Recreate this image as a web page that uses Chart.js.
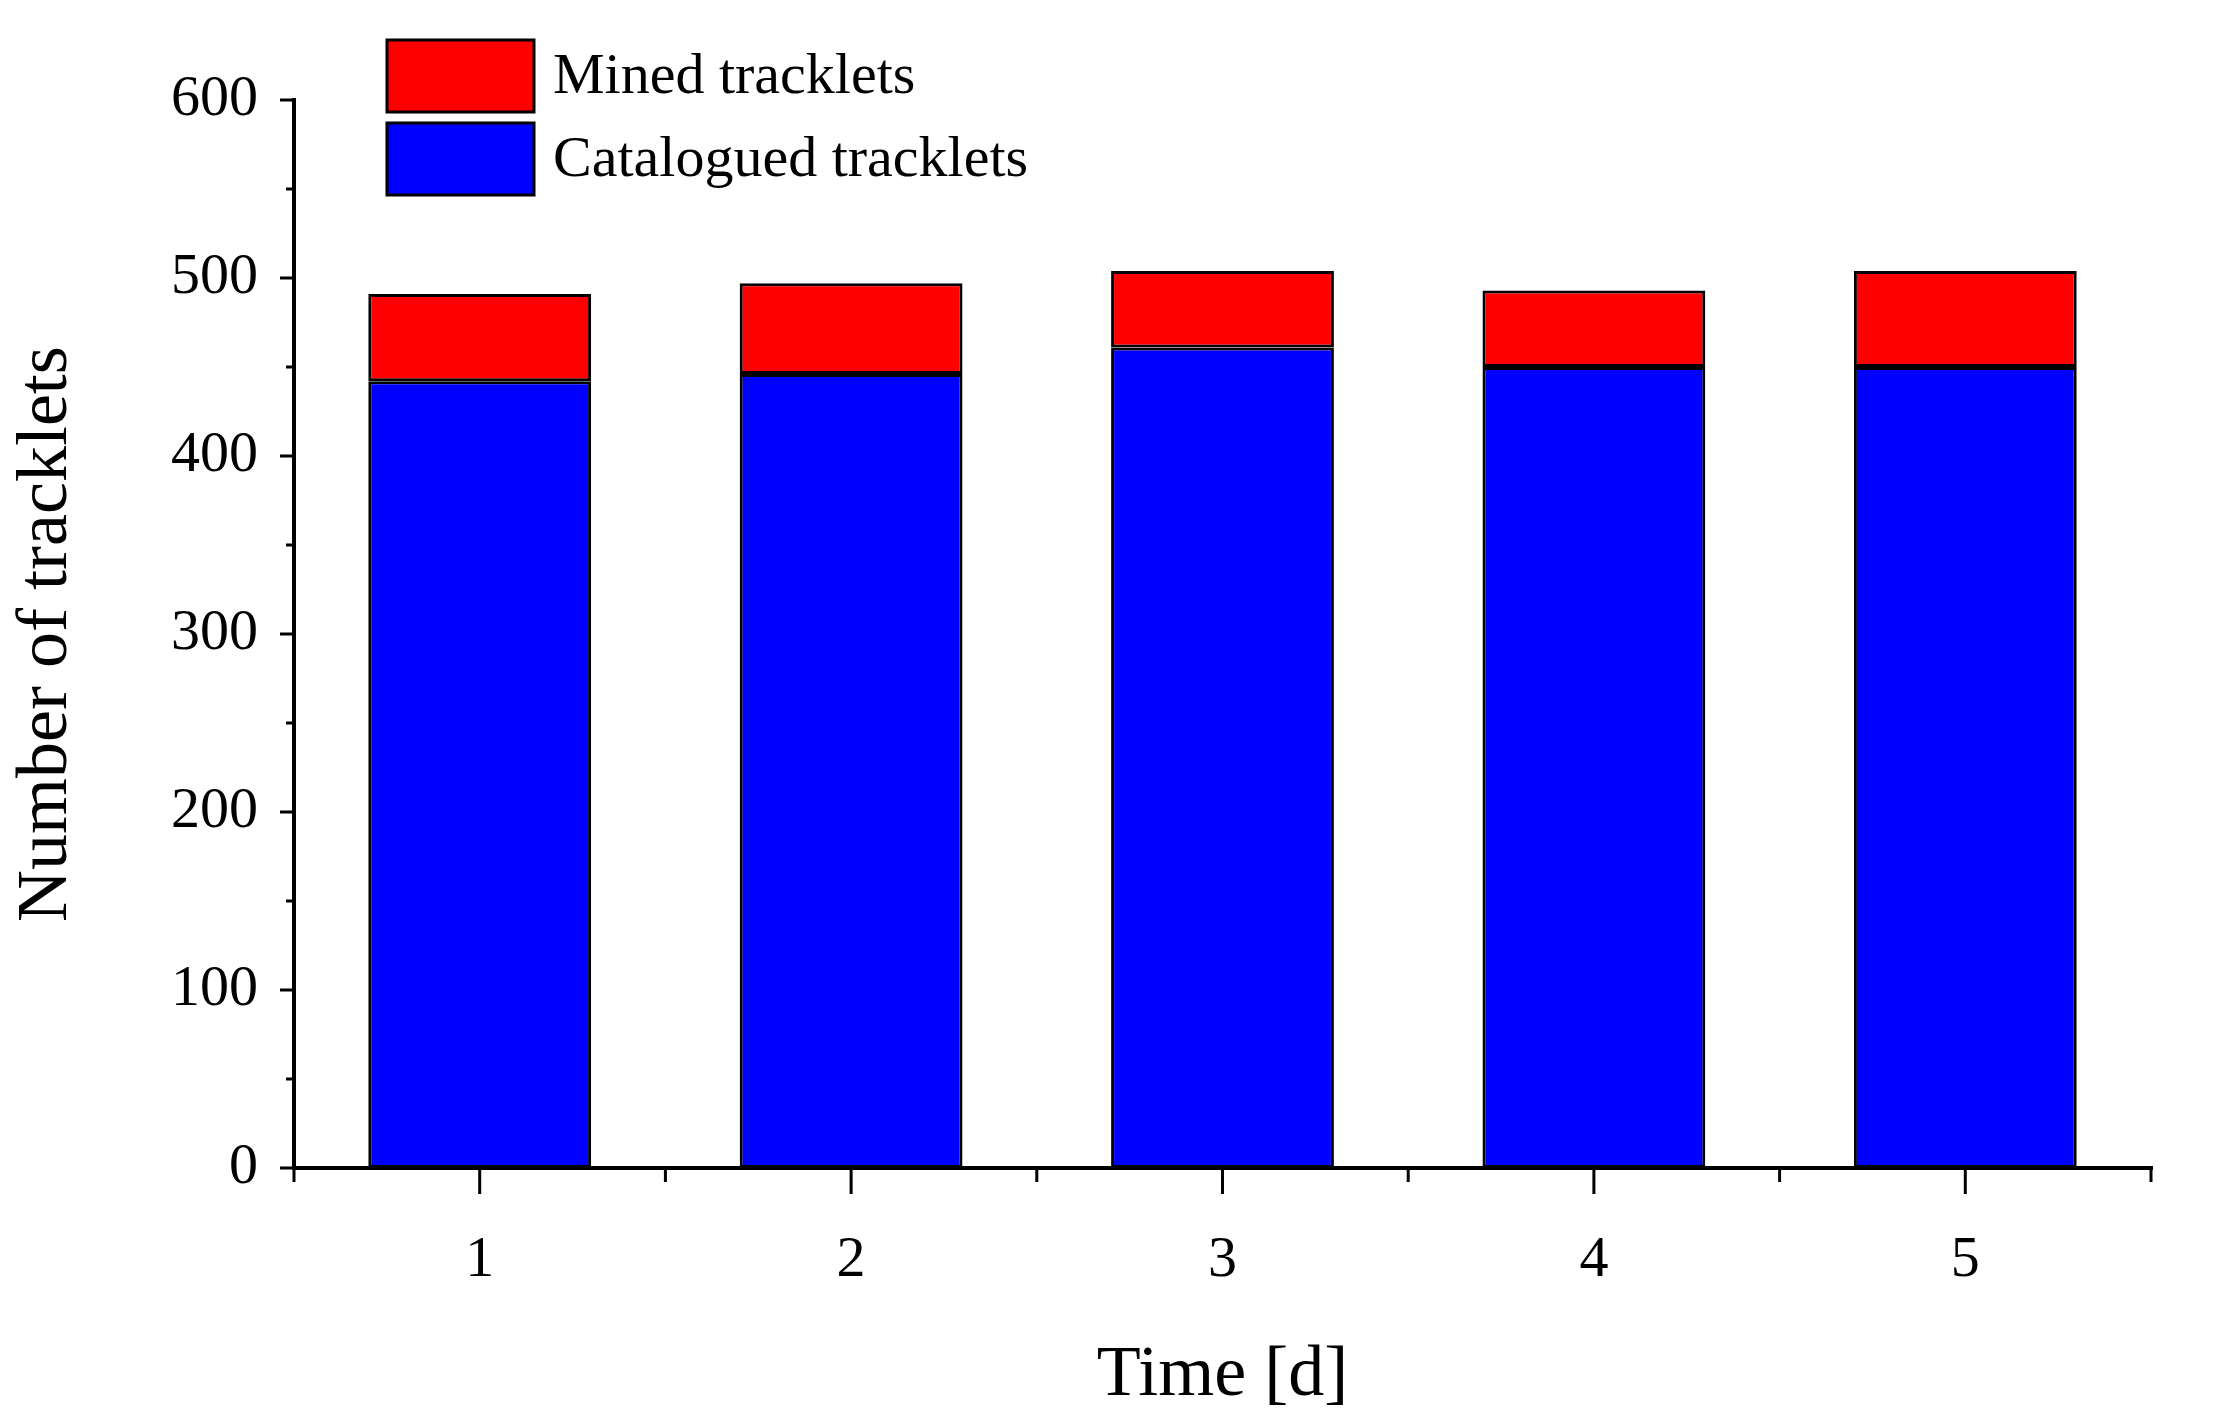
<!DOCTYPE html>
<html><head><meta charset="utf-8">
<script src="https://cdn.jsdelivr.net/npm/chart.js@4/dist/chart.umd.min.js"></script>
<style>html,body{margin:0;padding:0;background:#fff}#w{width:2215px;height:1423px}</style>
</head><body><div id="w"><canvas id="c"></canvas></div>
<script>
const days = [1, 2, 3, 4, 5];
const catalogued = [442, 446, 461, 450, 450];
const mined = [49, 51, 43, 43, 54];
const yTicks = [0, 100, 200, 300, 400, 500, 600];
const seriesNames = ['Catalogued tracklets', 'Mined tracklets'];

const FONT = '"Liberation Serif", "Times New Roman", serif';
const ticksPlugin = {
  id: 'ticksPlugin',
  afterDraw(chart) {
    const ctx = chart.ctx, x = chart.scales.x, y = chart.scales.y;
    ctx.save();
    ctx.strokeStyle = '#000';
    ctx.lineWidth = 4;
    ctx.beginPath();
    ctx.moveTo(x.left, y.top - 2); ctx.lineTo(x.left, y.bottom + 2);
    ctx.moveTo(x.left - 2, y.bottom); ctx.lineTo(x.right + 2, y.bottom);
    ctx.stroke();
    ctx.lineWidth = 3;
    ctx.beginPath();
    for (let v = 0; v <= 600; v += 50) {
      const py = y.getPixelForValue(v);
      const len = v % 100 === 0 ? 14 : 8;
      ctx.moveTo(x.left, py); ctx.lineTo(x.left - len, py);
    }
    for (let v = 0.5; v <= 5.5; v += 0.5) {
      const px = x.getPixelForValue(v);
      const len = Number.isInteger(v) ? 26 : 14;
      ctx.moveTo(px, y.bottom); ctx.lineTo(px, y.bottom + len);
    }
    ctx.stroke();
    // legend
    const items = [[seriesNames[1], '#ff0000', 40], [seriesNames[0], '#0000ff', 123]];
    ctx.font = '58px ' + FONT;
    ctx.textBaseline = 'middle';
    ctx.fillStyle = '#000';
    items.forEach(([t, c, top]) => {
      ctx.fillStyle = c;
      ctx.fillRect(387, top, 147, 72);
      ctx.lineWidth = 3; ctx.strokeStyle = '#000';
      ctx.strokeRect(387, top, 147, 72);
      ctx.fillStyle = '#000';
      ctx.fillText(t, 553, top + 38);
    });
    ctx.restore();
  }
};

new Chart(document.getElementById('c'), {
  type: 'bar',
  data: {
    datasets: [
      { label: seriesNames[0], data: days.map((d, i) => ({x: d, y: catalogued[i]})), backgroundColor: '#0000ff', borderColor: '#000', borderWidth: 3, borderSkipped: false },
      { label: seriesNames[1], data: days.map((d, i) => ({x: d, y: mined[i]})), backgroundColor: '#ff0000', borderColor: '#000', borderWidth: 3, borderSkipped: false }
    ]
  },
  options: {
    responsive: true, maintainAspectRatio: false, animation: false,
    layout: { padding: { top: 100, right: 64, left: 0, bottom: 0 } },
    barPercentage: 0.6, categoryPercentage: 1,
    plugins: { legend: { display: false }, tooltip: { enabled: false } },
    scales: {
      x: {
        type: 'linear', stacked: true, min: 0.5, max: 5.5, offset: false,
        afterFit(s) { s.height = 255; },
        afterBuildTicks(s) { s.ticks = days.map(v => ({value: v})); },
        grid: { display: false, drawTicks: false },
        border: { display: false },
        ticks: { color: '#000', font: { family: FONT, size: 58 }, padding: 58 },
        title: { display: true, text: 'Time [d]', color: '#000', font: { family: FONT, size: 72 }, padding: { top: 10 } }
      },
      y: {
        stacked: true, min: 0, max: 600,
        afterFit(s) { s.width = 294; },
        afterBuildTicks(s) { s.ticks = yTicks.map(v => ({value: v})); },
        grid: { display: false, drawTicks: false },
        border: { display: false },
        ticks: { color: '#000', font: { family: FONT, size: 58 }, padding: 36 },
        title: { display: true, text: 'Number of tracklets', color: '#000', font: { family: FONT, size: 72 }, padding: { bottom: 20 } }
      }
    }
  },
  plugins: [ticksPlugin]
});
</script></body></html>
